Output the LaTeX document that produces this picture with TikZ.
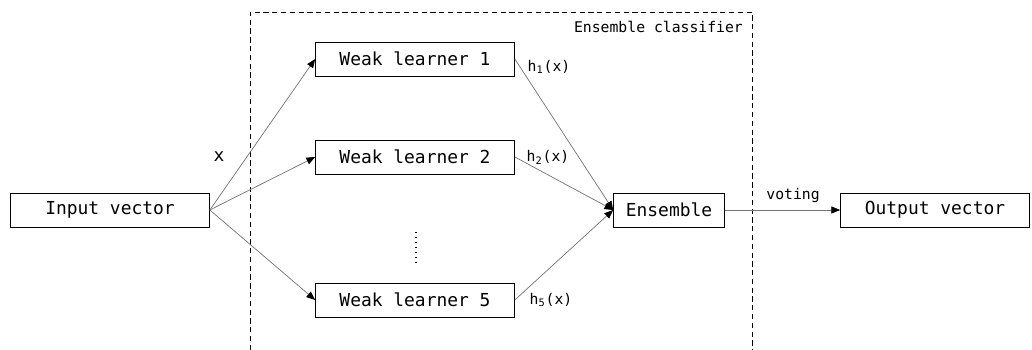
\documentclass[tikz,border=0pt]{standalone}
\usepackage{fontspec}
\setmonofont{DejaVu Sans Mono}
\usetikzlibrary{arrows.meta,positioning}

\begin{document}
\begin{tikzpicture}[x=0.02cm, y=-0.02cm,
        box/.style={rectangle, draw=black, thin, minimum width=3.98cm, minimum height=0.68cm,
          inner sep=0pt, font=\ttfamily\fontsize{10.2}{12}\selectfont},
        lbl/.style={font=\ttfamily\fontsize{8.4}{10}\selectfont, inner sep=1pt},
        arr/.style={-{Triangle[length=5pt, width=4pt, black]}, draw=black!55, thin}
      ]
        \useasboundingbox (0,0) rectangle (1032,350);

        % classifier frame, open at the bottom
        \draw[dashed, dash pattern=on 3pt off 2pt, thin] (250,350) -- (250,12) -- (752,12) -- (752,350);
        \node[lbl, anchor=north east] (ecl) at (745,19) {Ensemble classifier};

        \node[box] (inp) at (110,210) {Input vector};
        \node[box] (wl1) at (415,59)  {Weak learner 1};
        \node[box] (wl2) at (415,157) {Weak learner 2};
        \node[box] (wl5) at (415,300) {Weak learner 5};
        \node[box, minimum width=2.22cm] (ens) at (669,210) {Ensemble};
        \node[box, minimum width=3.78cm] (out) at (935,210) {Output vector};

        % skipped learners
        \coordinate (dtop) at (416,232);
        \coordinate (dbot) at (416,266);
        \draw[dotted, thick] (dtop) -- (dbot);

        \draw[arr] (inp.east) -- (wl1.west);
        \draw[arr] (inp.east) -- (wl2.west);
        \draw[arr] (inp.east) -- (wl5.west);
        \node[font=\ttfamily\fontsize{10.2}{12}\selectfont] (xin) at (219,157) {x};

        \draw[arr] (wl1.east) -- (ens.west);
        \draw[arr] (wl2.east) -- (ens.west);
        \draw[arr] (wl5.east) -- (ens.west);
        \node[lbl] (h1) at (549,67)  {h\textsubscript{1}(x)};
        \node[lbl] (h2) at (548,157) {h\textsubscript{2}(x)};
        \node[lbl] (h5) at (551,300) {h\textsubscript{5}(x)};

        \draw[arr] (ens.east) -- (out.west) node[lbl, midway, above=3pt, xshift=6pt] (vot) {voting};
      \end{tikzpicture}
\end{document}
